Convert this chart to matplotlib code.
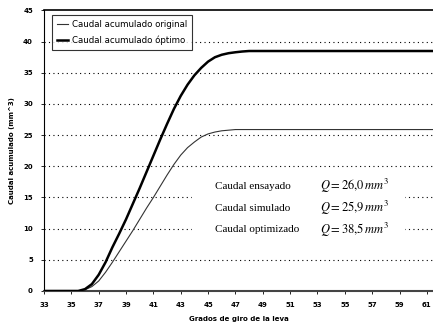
import numpy as np
import matplotlib
matplotlib.use("Agg")
import matplotlib.pyplot as plt
from matplotlib.lines import Line2D

plt.rcParams["mathtext.fontset"] = "stix"

# grados de giro de la leva
grados = [33, 34, 35, 35.5, 36, 36.5, 37, 37.5, 38, 38.5, 39, 39.5, 40, 40.5,
          41, 41.5, 42, 42.5, 43, 43.5, 44, 44.5, 45, 45.5, 46, 46.5, 47, 47.5,
          48, 49, 50, 51, 52, 53, 54, 55, 56, 57, 58, 59, 60, 61, 61.45]

# caudal acumulado original (mm^3)
caudal_original = [0.0, 0.0, 0.0, 0.0, 0.2, 0.7, 1.6, 3.0, 4.6, 6.3, 8.0, 9.7,
                   11.5, 13.3, 15.0, 16.8, 18.6, 20.3, 21.8, 23.0, 23.9, 24.7,
                   25.2, 25.5, 25.7, 25.8, 25.9, 25.9, 25.9, 25.9, 25.9, 25.9,
                   25.9, 25.9, 25.9, 25.9, 25.9, 25.9, 25.9, 25.9, 25.9, 25.9, 25.9]

# caudal acumulado optimo (mm^3)
caudal_optimo = [0.0, 0.0, 0.0, 0.0, 0.3, 1.1, 2.6, 4.6, 7.0, 9.2, 11.5, 14.0,
                 16.5, 19.1, 21.7, 24.3, 26.8, 29.2, 31.3, 33.1, 34.6, 35.8,
                 36.8, 37.5, 37.9, 38.15, 38.3, 38.42, 38.5, 38.5, 38.5, 38.5,
                 38.5, 38.5, 38.5, 38.5, 38.5, 38.5, 38.5, 38.5, 38.5, 38.5, 38.5]

textos = ["Caudal ensayado", "Caudal simulado", "Caudal optimizado"]
valores_q = ["26{,}0", "25{,}9", "38{,}5"]

fig = plt.figure(figsize=(4.33, 3.24), dpi=100)
ax = fig.add_axes([0.1016, 0.1019, 0.8984, 0.8657])

ax.plot(grados, caudal_original, color="#333333", lw=0.8, zorder=3)
ax.plot(grados, caudal_optimo, color="black", lw=1.8, zorder=3)

ax.set_xlim(33, 61.45)
ax.set_ylim(0, 45)
ax.set_xticks(np.arange(33, 62, 2))
ax.set_yticks(np.arange(0, 46, 5))
ax.tick_params(labelsize=5, length=2, width=0.6, pad=6)
for lab in ax.get_xticklabels() + ax.get_yticklabels():
    lab.set_fontweight("bold")

for y in range(5, 45, 5):
    ax.axhline(y, color="black", lw=0.8, ls=(0, (1, 3)), zorder=0)

ax.spines["right"].set_visible(False)
ax.spines["top"].set_linewidth(1.2)
ax.spines["left"].set_linewidth(0.8)
ax.spines["bottom"].set_linewidth(1.5)
ax.spines["bottom"].set_color("#444444")

ax.set_xlabel("Grados de giro de la leva", fontsize=5, fontweight="bold", labelpad=6)
ax.set_ylabel("Caudal acumulado (mm^3)", fontsize=5, fontweight="bold", labelpad=6)

handles = [Line2D([], [], color="#333333", lw=0.8),
           Line2D([], [], color="black", lw=1.8)]
leg = ax.legend(handles, ["Caudal acumulado original", "Caudal acumulado óptimo"],
                loc="upper left", bbox_to_anchor=(0.02, 0.985), fontsize=6.2,
                frameon=True, fancybox=False, edgecolor="black", handlelength=1.3,
                handletextpad=0.4, borderpad=0.6, labelspacing=0.8, borderaxespad=0)
leg.get_frame().set_linewidth(0.8)

# white patch behind the annotations
ax.fill_between([43.8, 59.3], 8.3, 18.7, color="white", zorder=1)
for i, (t, q) in enumerate(zip(textos, valores_q)):
    y = 16.8 - i * 3.5
    ax.text(45.5, y, t, fontsize=8, family="Liberation Serif", va="center", zorder=2)
    ax.text(53.2, y, r"$Q = " + q + r"\,mm^3$", fontsize=9, va="center", zorder=2)

fig.savefig("out.png", dpi=100)
